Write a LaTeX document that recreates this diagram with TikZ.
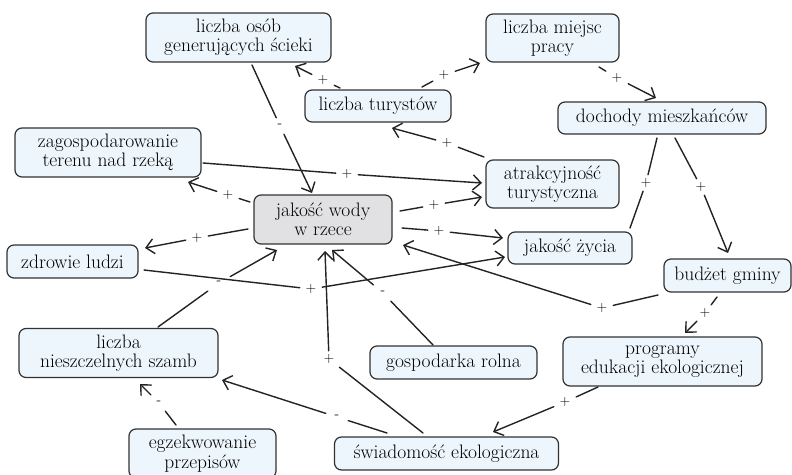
\documentclass[tikz,border=0pt]{standalone}
\usepackage{fontspec}
\usetikzlibrary{arrows.meta,calc}
\definecolor{boxfill}{RGB}{238,246,253}
\definecolor{wodafill}{RGB}{225,225,227}
\definecolor{edgecol}{RGB}{35,35,35}
\definecolor{bordercol}{RGB}{50,50,50}
\tikzset{
  concept/.style={draw=bordercol, line width=1.2pt, rounded corners=7pt, fill=boxfill,
    align=center, inner sep=0pt, font=\fontsize{19.5}{19.5}\selectfont, text=black},
  lab/.style={inner sep=0pt, minimum width=22pt, minimum height=16pt,
    font=\fontsize{14}{14}\selectfont, text=black},
  link/.style={draw=edgecol, line width=1.4pt, line cap=round},
  arr/.style={link, -{Straight Barb[length=8pt,width=15pt,line width=1.4pt]}},
}
\begin{document}
\begin{tikzpicture}[x=1pt,y=-1pt]
\useasboundingbox (0,0) rectangle (792,474);
% concepts
\node[concept, minimum width=185pt, minimum height=49pt] (osob) at (238.5,37.5) {liczba osób\\generujących ścieki};
\node[concept, minimum width=133pt, minimum height=48pt] (miejsc) at (552.5,38) {liczba miejsc\\pracy};
\node[concept, minimum width=146pt, minimum height=32pt] (tur) at (378,106) {liczba turystów};
\node[concept, minimum width=208pt, minimum height=32pt] (doch) at (662,118) {dochody mieszkańców};
\node[concept, minimum width=186pt, minimum height=49pt] (zag) at (108,152.5) {zagospodarowanie\\terenu nad rzeką};
\node[concept, minimum width=133pt, minimum height=48pt] (atr) at (552.5,184) {atrakcyjność\\turystyczna};
\node[concept, fill=wodafill, minimum width=138pt, minimum height=49pt] (woda) at (323,219.5) {jakość wody\\w rzece};
\node[concept, minimum width=124pt, minimum height=32pt] (zycie) at (570,248) {jakość życia};
\node[concept, minimum width=131pt, minimum height=33pt] (zdrowie) at (72.5,261.5) {zdrowie ludzi};
\node[concept, minimum width=127pt, minimum height=33pt] (budzet) at (727.5,275.5) {budżet gminy};
\node[concept, minimum width=199pt, minimum height=49pt] (szamb) at (118.5,353) {liczba\\nieszczelnych szamb};
\node[concept, minimum width=167pt, minimum height=33pt] (gosp) at (453.5,362.5) {gospodarka rolna};
\node[concept, minimum width=199pt, minimum height=49pt] (prog) at (662.5,361.5) {programy\\edukacji ekologicznej};
\node[concept, minimum width=147pt, minimum height=49pt] (egz) at (202.5,453.5) {egzekwowanie\\przepisów};
\node[concept, minimum width=224pt, minimum height=33pt] (swiad) at (446.5,453.5) {świadomość ekologiczna};
% link labels
\node[lab] (l1) at (323,80) {+};
\node[lab] (l2) at (444,75) {+};
\node[lab] (l3) at (617,78) {+};
\node[lab] (l4) at (280,126) {-};
\node[lab] (l5) at (447,143) {+};
\node[lab] (l6) at (347,174) {+};
\node[lab] (l7) at (228,195) {+};
\node[lab] (l8) at (434,205) {+};
\node[lab] (l9) at (439,231) {+};
\node[lab] (l10) at (197,238) {+};
\node[lab] (l11) at (311,289) {+};
\node[lab] (l12) at (602,308) {+};
\node[lab] (l13) at (646,183) {+};
\node[lab] (l14) at (701,187) {+};
\node[lab] (l15) at (705,313) {+};
\node[lab] (l16) at (565,402) {+};
\node[lab] (l17) at (383,293) {-};
\node[lab] (l18) at (329,359) {+};
\node[lab] (l19) at (219,283) {-};
\node[lab] (l20) at (337,417) {-};
\node[lab] (l21) at (159,403) {-};
% links
\draw[arr] ($(tur)+(-38,-18)$) -- (l1) -- ($(osob)+(56.5,28.5)$);
\draw[arr] ($(tur)+(44,-19)$) -- (l2) -- ($(miejsc)+(-72.5,25)$);
\draw[arr] ($(miejsc)+(46.5,29)$) -- (l3) -- ($(doch)+(-6,-20)$);
\draw[arr] ($(osob)+(13.5,27.5)$) -- (l4) -- ($(woda)+(-11,-26.5)$);
\draw[arr] ($(atr)+(-68.5,-27)$) -- (l5) -- ($(tur)+(14,22)$);
\draw[arr] ($(zag)+(95,10.5)$) -- (l6) -- ($(atr)+(-70.5,-1)$);
\draw[arr] ($(woda)+(-73,-17.5)$) -- (l7) -- ($(zag)+(80,29.5)$);
\draw[arr] ($(woda)+(77,-8.5)$) -- (l8) -- ($(atr)+(-70.5,13)$);
\draw[arr] ($(woda)+(79,8.5)$) -- (l9) -- ($(zycie)+(-67,-10)$);
\draw[arr] ($(woda)+(-75,9.5)$) -- (l10) -- ($(zdrowie)+(72.5,-13.5)$);
\draw[arr] ($(zdrowie)+(71.5,8.5)$) -- (l11) -- ($(zycie)+(-65,9)$);
\draw[arr] ($(budzet)+(-69.5,19.5)$) -- (l12) -- ($(woda)+(80,25.5)$);
\draw[link] ($(doch)+(-5,20)$) -- (l13) -- ($(zycie)+(60,-20)$);
\draw[arr] ($(doch)+(13,20)$) -- (l14) -- ($(budzet)+(0.5,-22.5)$);
\draw[arr] ($(budzet)+(-10.5,21.5)$) -- (l15) -- ($(prog)+(22.5,-28.5)$);
\draw[arr] ($(prog)+(-64.5,25.5)$) -- (l16) -- ($(swiad)+(46.5,-21.5)$);
\draw[arr] ($(gosp)+(-20.5,-17.5)$) -- (l17) -- ($(woda)+(9,30.5)$);
\draw[arr] ($(swiad)+(-23.5,-20.5)$) -- (l18) -- ($(woda)+(2,31.5)$);
\draw[arr] ($(szamb)+(39.5,-26)$) -- (l19) -- ($(woda)+(-46,30.5)$);
\draw[arr] ($(swiad)+(-59.5,-20.5)$) -- (l20) -- ($(szamb)+(103.5,27)$);
\draw[arr] ($(egz)+(-26.5,-28.5)$) -- (l21) -- ($(szamb)+(21.5,31)$);
\end{tikzpicture}
\end{document}
